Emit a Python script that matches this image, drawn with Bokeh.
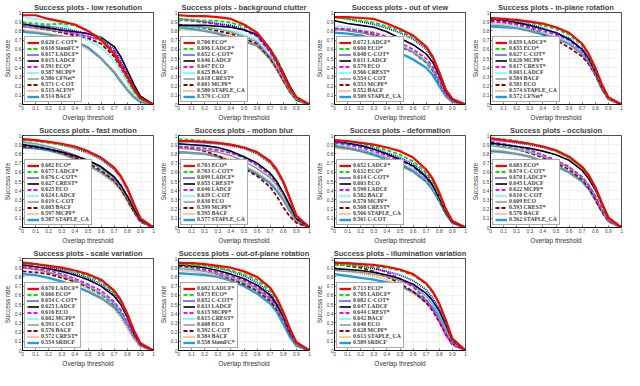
from bokeh.plotting import figure
from bokeh.layouts import gridplot
from bokeh.models import Legend, LegendItem, FixedTicker, Range1d
from bokeh.embed import file_html
from bokeh.resources import INLINE

THRESH = [0, 0.1, 0.2, 0.3, 0.4, 0.5, 0.6, 0.7, 0.75, 0.8, 0.85, 0.9, 1.0]
TICKS = [0, 0.1, 0.2, 0.3, 0.4, 0.5, 0.6, 0.7, 0.8, 0.9, 1]
TICK_LABELS = ["0", "0.1", "0.2", "0.3", "0.4", "0.5", "0.6", "0.7", "0.8", "0.9", "1"]

COLORS = ["#ff0000", "#00e600", "#0000ff", "#000000", "#ff00ff",
          "#00ffff", "#8c8c8c", "#8b0000", "#ff8c3a", "#1e9ee0"]
DASHES = ["solid", "4 2", "1 1", "solid", "4 2", "1 1", "solid", "4 2", "1 1", "solid"]
WIDTHS = [2.2, 2.0, 1.8, 1.6, 1.8, 1.8, 1.4, 1.8, 1.8, 2.4]

# ---- low resolution
LR_TITLE = "Success plots - low resolution"
LR_NAMES = ["C-COT*", "SiamFC*", "LADCF*", "LADCF", "ECO*", "MCPF*", "CFNet*", "C-COT", "ACFN*", "BACF"]
LR_AUC = ["0.620", "0.618", "0.617", "0.615", "0.591", "0.587", "0.586", "0.571", "0.515", "0.514"]
LR_CURVES = [
    [0.97, 0.97, 0.93, 0.90, 0.87, 0.80, 0.70, 0.55, 0.42, 0.30, 0.17, 0.07, 0],
    [0.89, 0.88, 0.87, 0.88, 0.86, 0.80, 0.72, 0.55, 0.42, 0.28, 0.15, 0.06, 0],
    [0.87, 0.86, 0.85, 0.83, 0.80, 0.77, 0.72, 0.60, 0.48, 0.33, 0.18, 0.07, 0],
    [0.88, 0.85, 0.83, 0.81, 0.79, 0.77, 0.73, 0.63, 0.52, 0.37, 0.22, 0.09, 0],
    [0.86, 0.85, 0.84, 0.80, 0.77, 0.74, 0.70, 0.58, 0.45, 0.32, 0.18, 0.07, 0],
    [0.95, 0.93, 0.92, 0.88, 0.78, 0.70, 0.62, 0.48, 0.36, 0.24, 0.12, 0.05, 0],
    [0.85, 0.83, 0.81, 0.79, 0.77, 0.74, 0.70, 0.56, 0.44, 0.30, 0.16, 0.06, 0],
    [0.85, 0.83, 0.81, 0.78, 0.75, 0.72, 0.66, 0.52, 0.40, 0.28, 0.15, 0.06, 0],
    [0.81, 0.79, 0.77, 0.74, 0.68, 0.60, 0.50, 0.36, 0.26, 0.17, 0.09, 0.04, 0],
    [0.79, 0.78, 0.76, 0.74, 0.69, 0.62, 0.50, 0.35, 0.25, 0.16, 0.08, 0.03, 0],
]

# ---- background clutter
BC_TITLE = "Success plots - background clutter"
BC_NAMES = ["ECO*", "LADCF*", "C-COT*", "LADCF", "ECO", "BACF", "CREST*", "MCPF*", "STAPLE_CA", "C-COT"]
BC_AUC = ["0.700", "0.696", "0.652", "0.646", "0.647", "0.625", "0.618", "0.601", "0.580", "0.579"]
BC_CURVES = [
    [0.97, 0.96, 0.96, 0.95, 0.93, 0.87, 0.78, 0.60, 0.47, 0.33, 0.18, 0.08, 0],
    [0.93, 0.92, 0.91, 0.91, 0.89, 0.85, 0.78, 0.60, 0.50, 0.33, 0.17, 0.07, 0],
    [0.93, 0.92, 0.90, 0.88, 0.86, 0.82, 0.75, 0.58, 0.46, 0.32, 0.17, 0.07, 0],
    [0.86, 0.86, 0.86, 0.85, 0.84, 0.81, 0.76, 0.60, 0.49, 0.35, 0.20, 0.08, 0],
    [0.92, 0.91, 0.89, 0.87, 0.85, 0.81, 0.74, 0.57, 0.45, 0.31, 0.17, 0.07, 0],
    [0.85, 0.84, 0.83, 0.82, 0.80, 0.76, 0.70, 0.55, 0.43, 0.30, 0.16, 0.06, 0],
    [0.86, 0.85, 0.84, 0.82, 0.79, 0.74, 0.68, 0.52, 0.41, 0.28, 0.15, 0.06, 0],
    [0.87, 0.85, 0.83, 0.80, 0.77, 0.72, 0.66, 0.50, 0.39, 0.26, 0.14, 0.05, 0],
    [0.82, 0.81, 0.80, 0.78, 0.75, 0.71, 0.64, 0.48, 0.37, 0.25, 0.13, 0.05, 0],
    [0.84, 0.82, 0.80, 0.77, 0.73, 0.69, 0.64, 0.50, 0.39, 0.26, 0.14, 0.05, 0],
]

# ---- out of view
OV_TITLE = "Success plots - out of view"
OV_NAMES = ["LADCF*", "ECO*", "C-COT*", "LADCF", "ECO", "CREST*", "C-COT", "MCPF*", "BACF", "STAPLE_CA"]
OV_AUC = ["0.672", "0.660", "0.648", "0.611", "0.579", "0.566", "0.554", "0.553", "0.552", "0.509"]
OV_CURVES = [
    [0.95, 0.95, 0.94, 0.93, 0.88, 0.82, 0.75, 0.63, 0.52, 0.35, 0.16, 0.06, 0],
    [0.95, 0.93, 0.91, 0.89, 0.85, 0.80, 0.73, 0.62, 0.52, 0.35, 0.16, 0.06, 0],
    [0.95, 0.93, 0.90, 0.87, 0.83, 0.78, 0.71, 0.60, 0.50, 0.33, 0.15, 0.05, 0],
    [0.91, 0.88, 0.86, 0.84, 0.79, 0.72, 0.65, 0.55, 0.46, 0.31, 0.14, 0.05, 0],
    [0.83, 0.82, 0.80, 0.78, 0.74, 0.67, 0.60, 0.50, 0.41, 0.27, 0.12, 0.04, 0],
    [0.86, 0.84, 0.81, 0.78, 0.72, 0.65, 0.58, 0.47, 0.38, 0.25, 0.12, 0.04, 0],
    [0.82, 0.80, 0.78, 0.75, 0.70, 0.64, 0.57, 0.47, 0.39, 0.26, 0.12, 0.04, 0],
    [0.82, 0.81, 0.79, 0.76, 0.70, 0.63, 0.57, 0.46, 0.37, 0.24, 0.11, 0.04, 0],
    [0.83, 0.81, 0.79, 0.76, 0.70, 0.63, 0.56, 0.45, 0.36, 0.24, 0.10, 0.03, 0],
    [0.78, 0.77, 0.75, 0.71, 0.64, 0.56, 0.49, 0.40, 0.32, 0.20, 0.09, 0.03, 0],
]

# ---- in-plane rotation
IPR_TITLE = "Success plots - in-plane rotation"
IPR_NAMES = ["LADCF*", "ECO*", "C-COT*", "MCPF*", "CREST*", "LADCF", "BACF", "ECO", "STAPLE_CA", "CFNet*"]
IPR_AUC = ["0.659", "0.655", "0.627", "0.620", "0.617", "0.603", "0.584", "0.581", "0.574", "0.572"]
IPR_CURVES = [
    [0.94, 0.93, 0.92, 0.90, 0.88, 0.84, 0.78, 0.66, 0.55, 0.40, 0.22, 0.08, 0],
    [0.94, 0.93, 0.91, 0.89, 0.86, 0.82, 0.76, 0.64, 0.53, 0.38, 0.20, 0.07, 0],
    [0.93, 0.92, 0.90, 0.87, 0.83, 0.78, 0.72, 0.60, 0.50, 0.36, 0.19, 0.07, 0],
    [0.94, 0.92, 0.89, 0.86, 0.82, 0.78, 0.71, 0.60, 0.50, 0.36, 0.19, 0.07, 0],
    [0.90, 0.89, 0.87, 0.84, 0.80, 0.76, 0.70, 0.58, 0.48, 0.34, 0.18, 0.06, 0],
    [0.88, 0.87, 0.85, 0.82, 0.78, 0.74, 0.68, 0.57, 0.48, 0.34, 0.18, 0.06, 0],
    [0.86, 0.85, 0.83, 0.80, 0.77, 0.72, 0.66, 0.55, 0.46, 0.33, 0.17, 0.06, 0],
    [0.92, 0.90, 0.87, 0.83, 0.77, 0.70, 0.62, 0.52, 0.44, 0.32, 0.17, 0.06, 0],
    [0.87, 0.86, 0.84, 0.81, 0.77, 0.72, 0.66, 0.55, 0.45, 0.32, 0.17, 0.06, 0],
    [0.85, 0.84, 0.83, 0.80, 0.76, 0.72, 0.66, 0.55, 0.46, 0.33, 0.18, 0.06, 0],
]

# ---- fast motion
FM_TITLE = "Success plots - fast motion"
FM_NAMES = ["ECO*", "LADCF*", "C-COT*", "CREST*", "ECO", "LADCF", "C-COT", "BACF", "MCPF*", "STAPLE_CA"]
FM_AUC = ["0.682", "0.677", "0.676", "0.627", "0.625", "0.624", "0.619", "0.605", "0.597", "0.587"]
FM_CURVES = [
    [0.96, 0.95, 0.93, 0.91, 0.88, 0.83, 0.76, 0.65, 0.56, 0.43, 0.26, 0.10, 0],
    [0.95, 0.94, 0.92, 0.90, 0.87, 0.82, 0.75, 0.64, 0.55, 0.42, 0.25, 0.10, 0],
    [0.96, 0.95, 0.93, 0.90, 0.86, 0.81, 0.74, 0.63, 0.54, 0.41, 0.24, 0.09, 0],
    [0.90, 0.88, 0.85, 0.82, 0.78, 0.73, 0.66, 0.55, 0.46, 0.34, 0.20, 0.08, 0],
    [0.90, 0.88, 0.86, 0.82, 0.78, 0.73, 0.66, 0.55, 0.46, 0.34, 0.20, 0.08, 0],
    [0.92, 0.90, 0.87, 0.83, 0.78, 0.72, 0.65, 0.54, 0.45, 0.33, 0.19, 0.07, 0],
    [0.93, 0.91, 0.88, 0.84, 0.79, 0.72, 0.64, 0.53, 0.44, 0.32, 0.19, 0.07, 0],
    [0.88, 0.87, 0.85, 0.81, 0.76, 0.70, 0.62, 0.51, 0.42, 0.30, 0.17, 0.06, 0],
    [0.91, 0.89, 0.85, 0.80, 0.74, 0.67, 0.59, 0.48, 0.40, 0.28, 0.16, 0.06, 0],
    [0.87, 0.86, 0.84, 0.80, 0.75, 0.68, 0.60, 0.50, 0.42, 0.31, 0.18, 0.07, 0],
]

# ---- motion blur
MB_TITLE = "Success plots - motion blur"
MB_NAMES = ["ECO*", "C-COT*", "LADCF*", "CREST*", "LADCF", "C-COT", "ECO", "MCPF*", "BACF", "STAPLE_CA"]
MB_AUC = ["0.703", "0.703", "0.699", "0.655", "0.646", "0.639", "0.630", "0.599", "0.595", "0.577"]
MB_CURVES = [
    [0.94, 0.94, 0.93, 0.92, 0.90, 0.87, 0.82, 0.72, 0.63, 0.50, 0.32, 0.13, 0],
    [0.96, 0.95, 0.94, 0.92, 0.90, 0.87, 0.81, 0.71, 0.62, 0.49, 0.31, 0.12, 0],
    [0.93, 0.93, 0.92, 0.91, 0.89, 0.86, 0.80, 0.70, 0.61, 0.48, 0.30, 0.12, 0],
    [0.91, 0.90, 0.89, 0.87, 0.83, 0.77, 0.70, 0.59, 0.50, 0.38, 0.24, 0.10, 0],
    [0.88, 0.87, 0.86, 0.84, 0.81, 0.76, 0.68, 0.57, 0.48, 0.37, 0.23, 0.09, 0],
    [0.90, 0.89, 0.87, 0.85, 0.81, 0.75, 0.67, 0.56, 0.47, 0.36, 0.22, 0.09, 0],
    [0.86, 0.85, 0.84, 0.82, 0.78, 0.72, 0.64, 0.54, 0.46, 0.35, 0.22, 0.09, 0],
    [0.88, 0.86, 0.83, 0.78, 0.71, 0.64, 0.56, 0.44, 0.34, 0.22, 0.12, 0.05, 0],
    [0.82, 0.81, 0.80, 0.78, 0.74, 0.68, 0.60, 0.50, 0.42, 0.31, 0.18, 0.06, 0],
    [0.82, 0.81, 0.80, 0.77, 0.72, 0.66, 0.58, 0.48, 0.40, 0.30, 0.18, 0.07, 0],
]

# ---- deformation
DEF_TITLE = "Success plots - deformation"
DEF_NAMES = ["LADCF*", "ECO*", "C-COT*", "ECO", "LADCF", "BACF", "MCPF*", "CREST*", "STAPLE_CA", "C-COT"]
DEF_AUC = ["0.652", "0.632", "0.614", "0.603", "0.598", "0.582", "0.570", "0.568", "0.566", "0.561"]
DEF_CURVES = [
    [0.95, 0.94, 0.92, 0.90, 0.87, 0.83, 0.76, 0.63, 0.53, 0.38, 0.20, 0.07, 0],
    [0.95, 0.93, 0.91, 0.88, 0.84, 0.79, 0.72, 0.60, 0.50, 0.35, 0.19, 0.07, 0],
    [0.93, 0.91, 0.89, 0.86, 0.81, 0.76, 0.69, 0.57, 0.48, 0.34, 0.18, 0.06, 0],
    [0.94, 0.92, 0.89, 0.85, 0.80, 0.74, 0.67, 0.55, 0.46, 0.32, 0.17, 0.06, 0],
    [0.92, 0.90, 0.87, 0.83, 0.78, 0.73, 0.66, 0.54, 0.45, 0.32, 0.17, 0.06, 0],
    [0.90, 0.88, 0.85, 0.81, 0.76, 0.70, 0.63, 0.52, 0.43, 0.30, 0.16, 0.06, 0],
    [0.89, 0.87, 0.84, 0.80, 0.75, 0.69, 0.62, 0.51, 0.42, 0.30, 0.16, 0.05, 0],
    [0.89, 0.87, 0.84, 0.80, 0.75, 0.69, 0.62, 0.51, 0.42, 0.29, 0.15, 0.05, 0],
    [0.86, 0.85, 0.83, 0.80, 0.75, 0.69, 0.62, 0.51, 0.42, 0.29, 0.15, 0.05, 0],
    [0.88, 0.86, 0.83, 0.79, 0.74, 0.68, 0.61, 0.50, 0.41, 0.29, 0.15, 0.05, 0],
]

# ---- occlusion
OCC_TITLE = "Success plots - occlusion"
OCC_NAMES = ["ECO*", "C-COT*", "LADCF*", "LADCF", "MCPF*", "C-COT", "ECO", "CREST*", "BACF", "STAPLE_CA"]
OCC_AUC = ["0.683", "0.674", "0.670", "0.645", "0.622", "0.610", "0.609", "0.593", "0.576", "0.562"]
OCC_CURVES = [
    [0.97, 0.95, 0.93, 0.91, 0.88, 0.84, 0.77, 0.66, 0.57, 0.44, 0.27, 0.11, 0],
    [0.97, 0.96, 0.94, 0.91, 0.88, 0.83, 0.76, 0.65, 0.56, 0.43, 0.26, 0.10, 0],
    [0.95, 0.94, 0.92, 0.90, 0.87, 0.83, 0.76, 0.65, 0.56, 0.43, 0.26, 0.10, 0],
    [0.92, 0.90, 0.88, 0.86, 0.83, 0.79, 0.73, 0.62, 0.53, 0.41, 0.25, 0.10, 0],
    [0.93, 0.91, 0.88, 0.84, 0.79, 0.73, 0.66, 0.55, 0.46, 0.34, 0.20, 0.08, 0],
    [0.90, 0.88, 0.86, 0.82, 0.78, 0.72, 0.65, 0.54, 0.46, 0.34, 0.20, 0.08, 0],
    [0.89, 0.87, 0.85, 0.82, 0.77, 0.72, 0.65, 0.54, 0.46, 0.34, 0.20, 0.08, 0],
    [0.91, 0.88, 0.85, 0.81, 0.76, 0.70, 0.63, 0.52, 0.43, 0.30, 0.17, 0.07, 0],
    [0.85, 0.83, 0.80, 0.77, 0.73, 0.68, 0.61, 0.51, 0.43, 0.31, 0.18, 0.07, 0],
    [0.83, 0.82, 0.80, 0.77, 0.72, 0.67, 0.60, 0.50, 0.42, 0.31, 0.18, 0.07, 0],
]

# ---- scale variation
SV_TITLE = "Success plots - scale variation"
SV_NAMES = ["LADCF*", "ECO*", "C-COT*", "LADCF", "ECO", "MCPF*", "C-COT", "BACF", "CREST*", "SRDCF"]
SV_AUC = ["0.670", "0.666", "0.654", "0.625", "0.616", "0.602", "0.593", "0.576", "0.572", "0.554"]
SV_CURVES = [
    [0.95, 0.94, 0.92, 0.90, 0.87, 0.83, 0.77, 0.65, 0.55, 0.40, 0.22, 0.08, 0],
    [0.96, 0.94, 0.92, 0.89, 0.86, 0.81, 0.75, 0.63, 0.53, 0.39, 0.21, 0.08, 0],
    [0.96, 0.94, 0.91, 0.88, 0.84, 0.79, 0.72, 0.61, 0.51, 0.37, 0.20, 0.07, 0],
    [0.93, 0.91, 0.89, 0.86, 0.82, 0.77, 0.70, 0.59, 0.50, 0.36, 0.19, 0.07, 0],
    [0.91, 0.89, 0.87, 0.83, 0.78, 0.72, 0.65, 0.53, 0.44, 0.31, 0.16, 0.06, 0],
    [0.94, 0.92, 0.88, 0.84, 0.78, 0.71, 0.62, 0.50, 0.41, 0.29, 0.15, 0.05, 0],
    [0.90, 0.88, 0.85, 0.81, 0.76, 0.70, 0.62, 0.51, 0.42, 0.30, 0.16, 0.06, 0],
    [0.86, 0.85, 0.83, 0.79, 0.75, 0.69, 0.61, 0.50, 0.41, 0.29, 0.16, 0.06, 0],
    [0.90, 0.88, 0.85, 0.80, 0.74, 0.67, 0.58, 0.45, 0.36, 0.24, 0.12, 0.04, 0],
    [0.83, 0.82, 0.79, 0.75, 0.70, 0.64, 0.57, 0.47, 0.39, 0.28, 0.15, 0.05, 0],
]

# ---- out-of-plane rotation
OPR_TITLE = "Success plots - out-of-plane rotation"
OPR_NAMES = ["LADCF*", "ECO*", "C-COT*", "LADCF", "MCPF*", "CREST*", "ECO", "C-COT", "BACF", "SiamFC*"]
OPR_AUC = ["0.682", "0.673", "0.652", "0.633", "0.615", "0.615", "0.608", "0.592", "0.584", "0.558"]
OPR_CURVES = [
    [0.95, 0.95, 0.94, 0.92, 0.90, 0.86, 0.80, 0.68, 0.57, 0.42, 0.24, 0.09, 0],
    [0.94, 0.93, 0.92, 0.90, 0.87, 0.83, 0.77, 0.65, 0.55, 0.40, 0.22, 0.08, 0],
    [0.96, 0.95, 0.93, 0.90, 0.86, 0.81, 0.74, 0.62, 0.52, 0.38, 0.21, 0.08, 0],
    [0.93, 0.92, 0.90, 0.87, 0.83, 0.78, 0.71, 0.60, 0.50, 0.37, 0.20, 0.08, 0],
    [0.93, 0.91, 0.88, 0.85, 0.81, 0.76, 0.69, 0.57, 0.48, 0.35, 0.19, 0.07, 0],
    [0.90, 0.89, 0.87, 0.84, 0.80, 0.75, 0.68, 0.57, 0.48, 0.35, 0.19, 0.07, 0],
    [0.89, 0.88, 0.86, 0.83, 0.79, 0.74, 0.67, 0.56, 0.47, 0.34, 0.19, 0.07, 0],
    [0.92, 0.90, 0.87, 0.83, 0.78, 0.72, 0.65, 0.54, 0.45, 0.33, 0.18, 0.07, 0],
    [0.87, 0.86, 0.84, 0.81, 0.77, 0.72, 0.65, 0.54, 0.45, 0.32, 0.18, 0.06, 0],
    [0.84, 0.83, 0.82, 0.80, 0.76, 0.70, 0.62, 0.51, 0.42, 0.29, 0.15, 0.05, 0],
]

# ---- illumination variation
IV_TITLE = "Success plots - illumination variation"
IV_NAMES = ["ECO*", "LADCF*", "C-COT*", "LADCF", "CREST*", "BACF", "ECO", "MCPF*", "STAPLE_CA", "SRDCF"]
IV_AUC = ["0.713", "0.705", "0.682", "0.647", "0.644", "0.642", "0.640", "0.628", "0.613", "0.589"]
IV_CURVES = [
    [0.95, 0.95, 0.94, 0.93, 0.91, 0.88, 0.83, 0.73, 0.64, 0.51, 0.33, 0.13, 0],
    [0.93, 0.93, 0.92, 0.91, 0.90, 0.87, 0.82, 0.72, 0.63, 0.50, 0.32, 0.12, 0],
    [0.95, 0.94, 0.92, 0.89, 0.86, 0.82, 0.76, 0.66, 0.57, 0.45, 0.29, 0.11, 0],
    [0.89, 0.88, 0.87, 0.85, 0.82, 0.78, 0.72, 0.62, 0.54, 0.43, 0.28, 0.11, 0],
    [0.96, 0.95, 0.93, 0.90, 0.85, 0.78, 0.69, 0.55, 0.45, 0.32, 0.17, 0.06, 0],
    [0.89, 0.88, 0.87, 0.85, 0.82, 0.77, 0.70, 0.59, 0.50, 0.39, 0.25, 0.10, 0],
    [0.87, 0.86, 0.85, 0.83, 0.80, 0.76, 0.70, 0.59, 0.50, 0.39, 0.25, 0.10, 0],
    [0.94, 0.92, 0.90, 0.86, 0.80, 0.73, 0.64, 0.52, 0.43, 0.31, 0.17, 0.07, 0],
    [0.88, 0.86, 0.84, 0.81, 0.77, 0.70, 0.62, 0.52, 0.44, 0.34, 0.21, 0.08, 0],
    [0.83, 0.81, 0.79, 0.77, 0.74, 0.70, 0.64, 0.54, 0.46, 0.36, 0.22, 0.09, 0],
]

PANELS = [
    (LR_TITLE, LR_NAMES, LR_AUC, LR_CURVES),
    (BC_TITLE, BC_NAMES, BC_AUC, BC_CURVES),
    (OV_TITLE, OV_NAMES, OV_AUC, OV_CURVES),
    (IPR_TITLE, IPR_NAMES, IPR_AUC, IPR_CURVES),
    (FM_TITLE, FM_NAMES, FM_AUC, FM_CURVES),
    (MB_TITLE, MB_NAMES, MB_AUC, MB_CURVES),
    (DEF_TITLE, DEF_NAMES, DEF_AUC, DEF_CURVES),
    (OCC_TITLE, OCC_NAMES, OCC_AUC, OCC_CURVES),
    (SV_TITLE, SV_NAMES, SV_AUC, SV_CURVES),
    (OPR_TITLE, OPR_NAMES, OPR_AUC, OPR_CURVES),
    (IV_TITLE, IV_NAMES, IV_AUC, IV_CURVES),
]

SANS = "Liberation Sans"
SERIF = "Liberation Serif"


def make_panel(title, names, aucs, curves):
    p = figure(width=156, height=123, x_range=Range1d(0, 1), y_range=Range1d(0, 1),
               output_backend="svg", toolbar_location=None,
               min_border_left=4, min_border_right=3, min_border_top=1, min_border_bottom=2)
    p.title.text = title
    p.title.text_font = SANS
    p.title.text_font_size = "7.5px"
    p.title.text_font_style = "bold"
    p.title.align = "center"
    p.title.standoff = 1
    p.title.offset = 0
    p.outline_line_color = "black"
    p.outline_line_width = 0.7
    p.outline_line_alpha = 1
    for ax in (p.xaxis, p.yaxis):
        ax.ticker = FixedTicker(ticks=TICKS)
        ax.major_label_overrides = dict(zip(TICKS, TICK_LABELS))
        ax.major_label_text_font = SANS
        ax.major_label_text_font_size = "4.8px"
        ax.major_label_standoff = 1
        ax.axis_label_text_font = SANS
        ax.axis_label_text_font_size = "6.5px"
        ax.axis_label_text_font_style = "normal"
        ax.axis_label_text_color = "#333333"
        ax.axis_label_standoff = 1
        ax.major_tick_in = 2
        ax.major_tick_out = 0
        ax.minor_tick_line_color = None
        ax.axis_line_width = 0.7
        ax.major_tick_line_width = 0.5
    p.xaxis.axis_label = "Overlap threshold"
    p.yaxis.axis_label = "Success rate"
    p.grid.grid_line_color = "#e2e2e2"
    p.grid.grid_line_width = 0.5

    renderers = [None] * len(names)
    for i in reversed(range(len(names))):
        renderers[i] = p.line(THRESH, curves[i], line_color=COLORS[i],
                              line_width=WIDTHS[i], line_dash=DASHES[i])
    items = [LegendItem(label=f"{aucs[i]} {names[i]}", renderers=[renderers[i]])
             for i in range(len(names))]
    legend = Legend(items=items, location="bottom_left",
                    label_text_font=SERIF, label_text_font_size="5.8px",
                    label_text_font_style="bold",
                    glyph_width=12, glyph_height=5, label_height=6,
                    label_standoff=2, spacing=0, padding=2, margin=2,
                    border_line_color="#555555", border_line_width=0.6,
                    background_fill_color="white", background_fill_alpha=1)
    p.add_layout(legend)
    return p


figs = [make_panel(*panel) for panel in PANELS]
grid = gridplot([figs[0:4], figs[4:8], figs[8:11] + [None]], toolbar_location=None)

open("out.html", "w").write(file_html(grid, INLINE))
